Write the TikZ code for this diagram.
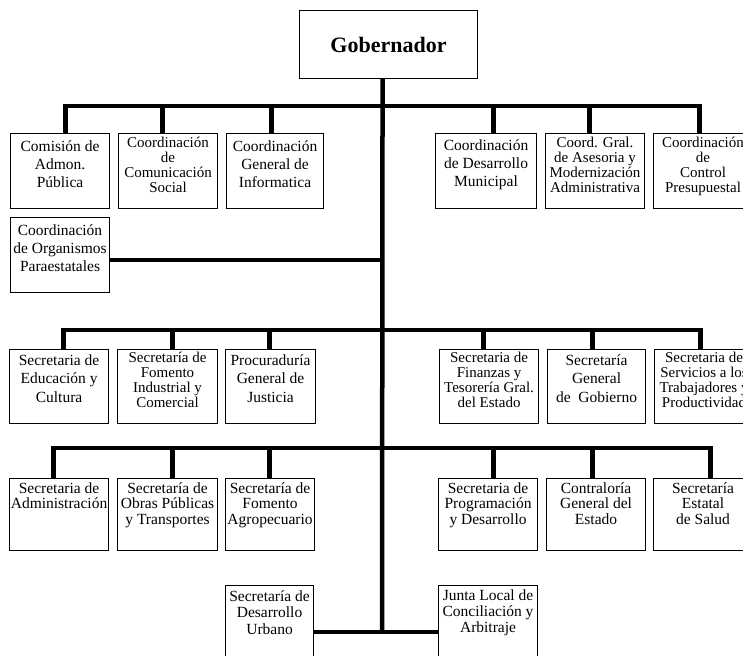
\documentclass[tikz,border=0pt]{standalone}
\usepackage{fontspec}
\setmainfont{Liberation Serif}
\tikzset{
  obox/.style={draw, line width=1.1pt, anchor=north west, inner sep=0pt},
  otext/.style={align=center, inner sep=0pt, anchor=north},
  conn/.style={line width=4.5pt}
}
\newcommand{\orgbox}[9]{%
  \node[obox, minimum width=#4, minimum height=#5] (#1) at (#2,#3) {};
  \node[otext, font=\fontsize{#9}{#6}\selectfont] (#1-t) at ([yshift=#7]#1.north) {#8};
}
\begin{document}
\begin{tikzpicture}[x=1pt,y=-1pt]
\path[use as bounding box] (0,0) rectangle (743,655);
\fill[white] (0,0) rectangle (743,655);
\clip (0,0) rectangle (743,655);

% Gobernador
\node[obox, minimum width=178, minimum height=68, font=\fontsize{22}{24}\selectfont\bfseries] (gob) at (299,10) {Gobernador};

% trunk coordinates
\coordinate (t1) at (382,106);
\coordinate (t0) at (382,260);
\coordinate (t2) at (382,330);
\coordinate (t3) at (382,448);
\coordinate (tb) at (382,632);

% Row 1
\orgbox{com}{10}{133}{99}{75}{18}{-7.5}{Comisión de\\Admon.\\Pública}{15.5}
\orgbox{soc}{118}{133}{99}{75}{15}{-4}{Coordinación\\de\\Comunicación\\Social}{15}
\orgbox{inf}{226}{133}{97}{75}{18}{-7.5}{Coordinación\\General de\\Informatica}{15.5}
\orgbox{mun}{435}{133}{101}{75}{18}{-7}{Coordinación\\de Desarrollo\\Municipal}{15.5}
\orgbox{ase}{545}{133}{99}{75}{15}{-4}{Coord. Gral.\\de Asesoria y\\Modernización\\Administrativa}{15}
\orgbox{ctl}{653}{133}{99}{75}{15}{-4}{Coordinación\\de\\Control\\Presupuestal}{15}
\orgbox{org}{10}{217}{99}{75}{18}{-7.5}{Coordinación\\de Organismos\\Paraestatales}{15.5}

% Row 2
\orgbox{edu}{9}{349}{99}{74}{18.5}{-5.5}{Secretaria de\\Educación y\\Cultura}{15.5}
\orgbox{fom}{117}{349}{100}{74}{15}{-2.5}{Secretaría de\\Fomento\\Industrial y\\Comercial}{15}
\orgbox{pro}{225}{349}{90}{74}{18.5}{-5.5}{Procuraduría\\General de\\Justicia}{15.5}
\orgbox{fin}{439}{349}{99}{74}{15}{-2.5}{Secretaria de\\Finanzas y\\Tesorería Gral.\\del Estado}{15}
\orgbox{sgg}{547}{349}{98}{74}{18.5}{-5.5}{Secretaría\\General\\de\ \ Gobierno}{15.5}
\orgbox{ser}{654}{349}{99}{74}{15}{-2.5}{Secretaria de\\Servicios a los\\Trabajadores y\\Productividad}{15}

% Row 3
\orgbox{adm}{9}{478}{99}{72}{15.5}{-4.5}{Secretaria de\\Administración}{15.5}
\orgbox{obr}{117}{478}{100}{72}{15.5}{-4.5}{Secretaría de\\Obras Públicas\\y Transportes}{15.5}
\orgbox{agr}{225}{478}{89}{72}{15.5}{-4.5}{Secretaría de\\Fomento\\Agropecuario}{15.5}
\orgbox{prg}{438}{478}{99}{72}{15.5}{-4.5}{Secretaria de\\Programación\\y Desarrollo}{15.5}
\orgbox{cnt}{546}{478}{99}{72}{15.5}{-4.5}{Contraloría\\General del\\Estado}{15.5}
\orgbox{sal}{653}{478}{99}{72}{15.5}{-4.5}{Secretaría\\Estatal\\de Salud}{15.5}

% Bottom
\orgbox{urb}{225}{585}{88}{80}{16.5}{-5.5}{Secretaría de\\Desarrollo\\Urbano}{15.5}
\orgbox{jun}{438}{585}{99}{80}{16}{-5}{Junta Local de\\Conciliación y\\Arbitraje}{15.5}

% Connectors
\draw[conn] ([xshift=-6]gob.south) -- (tb);
\draw[conn] ([xshift=5.5]com.north) |- (t1);
\draw[conn] ([xshift=-5.5]soc.north) |- (t1);
\draw[conn] ([xshift=-3.5]inf.north) |- (t1);
\draw[conn] ([xshift=7.5]mun.north) |- (t1);
\draw[conn] ([xshift=-5.5]ase.north) |- (t1);
\draw[conn] ([xshift=-3.5]ctl.north) |- (t1);
\draw[conn] (org.east |- t0) -- (t0);

\draw[conn] ([xshift=4.5]edu.north) |- (t2);
\draw[conn] ([xshift=5]fom.north) |- (t2);
\draw[conn] ([xshift=-1]pro.north) |- (t2);
\draw[conn] ([xshift=-5.5]fin.north) |- (t2);
\draw[conn] ([xshift=-4]sgg.north) |- (t2);
\draw[conn] ([xshift=-3.5]ser.north) |- (t2);

\draw[conn] ([xshift=-5.5]adm.north) |- (t3);
\draw[conn] ([xshift=5]obr.north) |- (t3);
\draw[conn] ([xshift=-0.5]agr.north) |- (t3);
\draw[conn] ([xshift=5.5]prg.north) |- (t3);
\draw[conn] ([xshift=-3.5]cnt.north) |- (t3);
\draw[conn] ([xshift=7.5]sal.north) |- (t3);

\draw[conn] (urb.east |- tb) -- (jun.west |- tb);
\end{tikzpicture}
\end{document}
